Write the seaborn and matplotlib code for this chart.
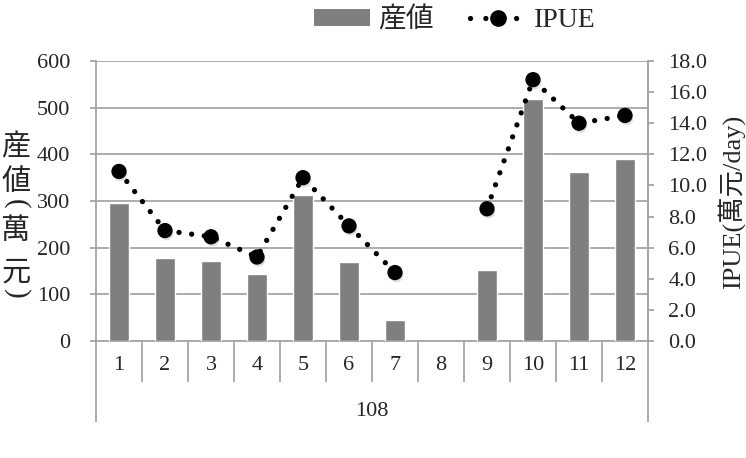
import numpy as np
import pandas as pd
import seaborn as sns
import matplotlib
matplotlib.use('Agg')
from matplotlib import pyplot as plt
from matplotlib.patches import Patch
from matplotlib.lines import Line2D
import matplotlib.patheffects as pe

# data
months = ['1', '2', '3', '4', '5', '6', '7', '8', '9', '10', '11', '12']
value = [295, 177, 171, 144, 313, 169, 45, np.nan, 153, 518, 363, 391]   # 産値 (萬元)
ipue = [10.9, 7.1, 6.7, 5.4, 10.5, 7.4, 4.4, np.nan, 8.5, 16.8, 14.0, 14.5]
year = '108'

df = pd.DataFrame({'month': months, 'value': value, 'ipue': ipue})

sns.set_style('white')
fonts = ['Liberation Serif', 'Noto Sans CJK JP']
plt.rcParams['font.family'] = fonts
grey = '#a6a6a6'
bar_col = '#7f7f7f'

fig = plt.figure(figsize=(7.46, 4.58), dpi=100)
ax = fig.add_axes([96 / 746, 1 - 341 / 458, 552 / 746, 280 / 458])

sns.barplot(data=df, x='month', y='value', order=months, color=bar_col,
            width=0.44, saturation=1, ax=ax, zorder=3)
ax.set_xlim(-0.5, len(months) - 0.5)
ax.set_ylim(0, 600)
ax.set_yticks(range(0, 601, 100))
ax.yaxis.grid(True, color=grey, linewidth=1.3, zorder=0)
ax.set_axisbelow(True)
ax.set_xlabel('')
ax.set_ylabel('')
ax.spines['top'].set_visible(False)
for s in ['left', 'bottom', 'right']:
    ax.spines[s].set_color(grey)
    ax.spines[s].set_linewidth(1.3)
ax.tick_params(axis='y', length=4.5, width=1.3, color=grey, pad=14,
               labelsize=16)
ax.tick_params(axis='x', length=0, pad=11, labelsize=16)

# category separators below the axis
tr = ax.get_xaxis_transform()
ax.vlines(np.arange(1, len(months)) - 0.5, 0, -41 / 280, transform=tr,
          colors=grey, linewidth=1.3, clip_on=False)
ax.vlines([-0.5, len(months) - 0.5], 0, -81 / 280, transform=tr,
          colors=grey, linewidth=1.3, clip_on=False)
ax.text((len(months) - 1) / 2, -70 / 280, year, transform=tr,
        ha='center', va='center', fontsize=16)

# IPUE on right axis
ax2 = ax.twinx()
x = np.arange(len(months))
ax2.plot(x, ipue, color='black', linewidth=3.8, linestyle=(0, (0.01, 2.4)),
         dash_capstyle='round', zorder=4)
ax2.plot(x, ipue, linestyle='none', marker='o', markersize=10,
         color='black', zorder=5,
         path_effects=[pe.SimplePatchShadow(offset=(1, -2), alpha=0.25,
                                            shadow_rgbFace='grey'),
                       pe.Normal()])
ax2.set_ylim(0, 18)
ax2.set_yticks(np.arange(0, 18.1, 2))
ax2.set_yticklabels([f'{v:.1f}' for v in np.arange(0, 18.1, 2)])
ax2.tick_params(axis='y', length=4.5, width=1.3, color=grey, pad=10,
                labelsize=16)
for s in ['top', 'left', 'bottom']:
    ax2.spines[s].set_visible(False)
ax2.spines['right'].set_color(grey)
ax2.spines['right'].set_linewidth(1.3)
ax2.grid(False)

# left label written vertically
chars = [('産', 148, 0), ('値', 183, 0), ('(', 204, -90),
         ('萬', 232, 0), ('元', 274, 0), (')', 294, -90)]
for ch, yy, rot in chars:
    fig.text(16 / 746, 1 - yy / 458, ch, ha='center', va='center',
             rotation=rot, fontsize=21)

# right label
fig.text(731 / 746, 1 - 202 / 458, 'IPUE(萬元/day)', rotation=90,
         ha='center', va='center', fontsize=19)

# legend
handles = [Patch(facecolor=bar_col, edgecolor='none'),
           Line2D([0], [0], color='black', linewidth=3.8,
                  linestyle=(0, (0.01, 2.9)), dash_capstyle='round',
                  marker='o', markersize=11)]
fig.legend(handles, ['産値', 'IPUE'], loc='center', ncol=2,
           bbox_to_anchor=(455 / 746, 1 - 20 / 458), frameon=False,
           fontsize=20, handlelength=2.0, handleheight=0.6,
           handletextpad=0.3, columnspacing=1.3)

fig.savefig('out.png', dpi=100)
